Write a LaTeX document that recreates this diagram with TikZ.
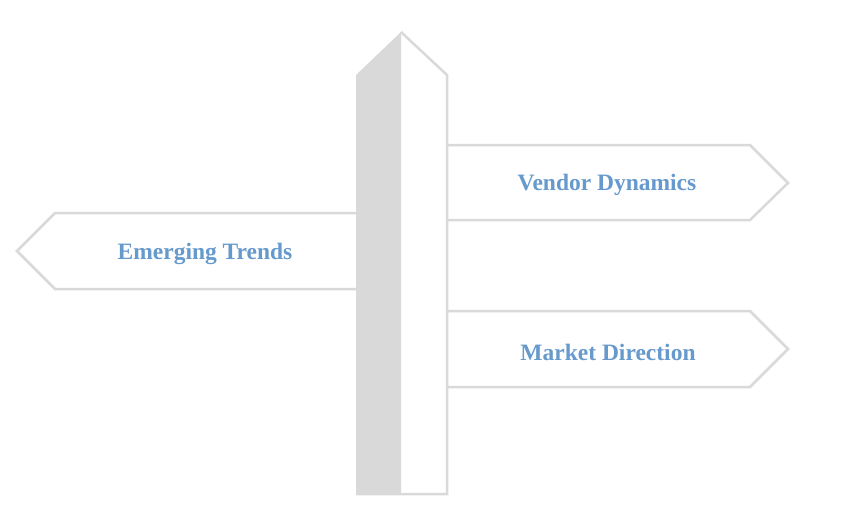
\documentclass[tikz,border=0pt]{standalone}
\usepackage{fontspec}
\setmainfont{Liberation Serif}
\usepackage{xcolor}
\usepackage{tikz}
\usetikzlibrary{positioning}
\usetikzlibrary{calc}
\definecolor{signgray}{RGB}{217,217,217}
\definecolor{signblue}{RGB}{102,153,204}
\tikzstyle{board} = [draw=signgray, line width=2.5pt, fill=white, line join=miter]
\tikzstyle{label} = [text=signblue, font=\bfseries\fontsize{23.5}{26}\selectfont, anchor=center]

\begin{document}
\begin{tikzpicture}[x=1pt,y=-1pt]
        \useasboundingbox (0,0) rectangle (843,525);
        % signs
        \draw[board] (447,145) -- (750,145) -- (788,183) -- (750,220) -- (447,220);
        \draw[board] (447,311) -- (750,311) -- (788,349) -- (750,387) -- (447,387);
        \draw[board] (356,213) -- (55,213) -- (17,251) -- (55,289) -- (356,289);
        % post
        \fill[signgray] (356,494) -- (356,75) -- (401,32) -- (401,494) -- cycle;
        \draw[board,fill=none] (401,32) -- (447,75) -- (447,494) -- (356,494);
        \node[label] (VD) at (607,185) {Vendor Dynamics};
        \node[label] (MD) at (608,352) {Market Direction};
        \node[label] (ET) at (205,254) {Emerging Trends};
    \end{tikzpicture}
\end{document}
